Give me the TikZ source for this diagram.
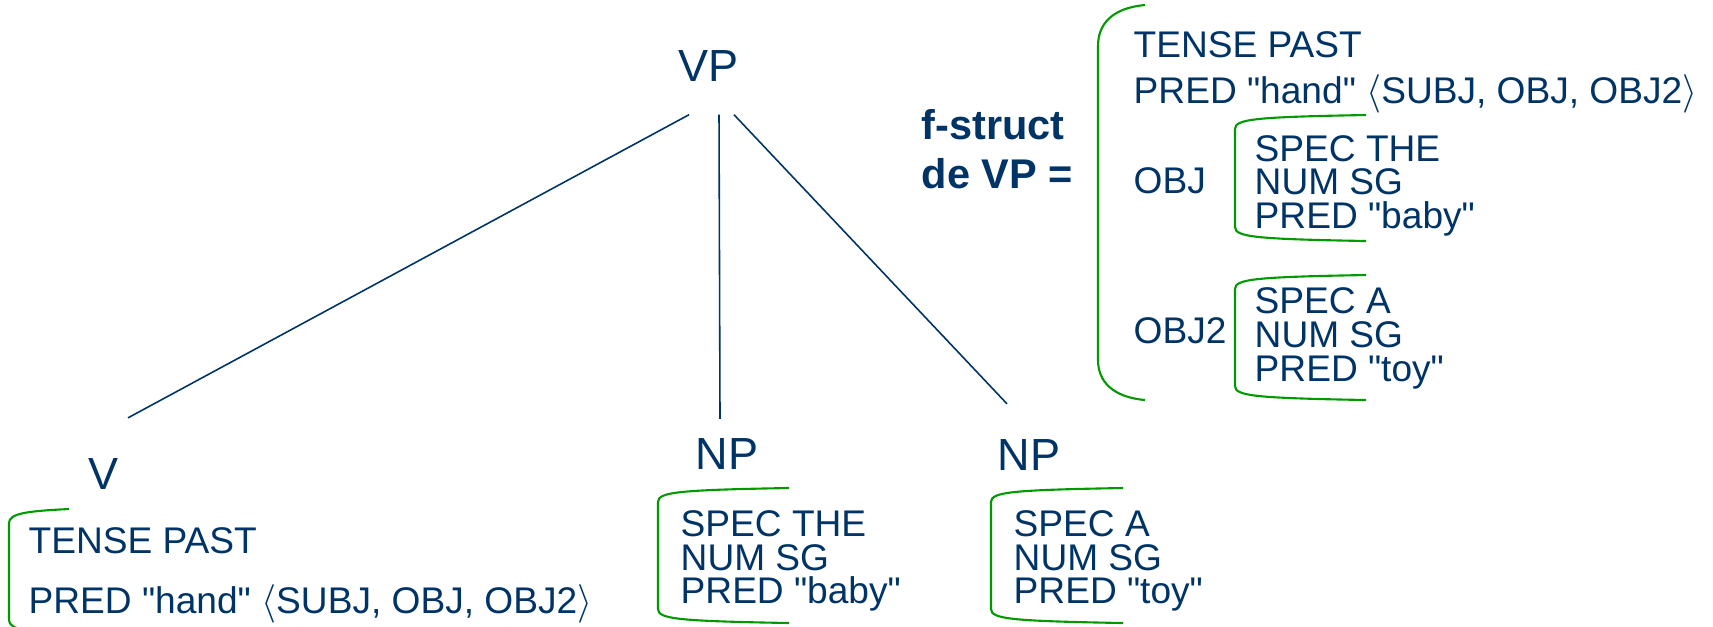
\documentclass[tikz,border=0pt]{standalone}
\usepackage{fontspec}
\setmainfont{Liberation Sans}
% plain family (no TeX ligatures) so that " stays a straight quote
\newfontfamily\featfont{Liberation Sans}
\usetikzlibrary{calc}
\definecolor{navy}{RGB}{0,51,102}
\definecolor{fgreen}{RGB}{0,153,0}

% left square bracket of an attribute-value matrix: x-left, x-right, y-top, y-bottom
\newcommand\avmbracket[4]{%
  \draw[avm] (#2,#3) .. controls (#1+20,#3+2) and (#1,#3+4) .. (#1,#3+14)
    -- (#1,#4-14) .. controls (#1,#4-4) and (#1+20,#4-2) .. (#2,#4);}

\begin{document}
\begin{tikzpicture}[x=0.01cm,y=-0.01cm,
  feat/.style={anchor=base west,inner sep=0pt,text=navy,
    font=\featfont\fontsize{10.55}{12.5}\selectfont},
  cat/.style={anchor=base,inner sep=0pt,text=navy,
    font=\fontsize{12.8}{15}\selectfont},
  title/.style={anchor=base west,inner sep=0pt,text=navy,
    font=\bfseries\fontsize{11.8}{14}\selectfont},
  branch/.style={draw=navy,line width=0.45pt},
  avm/.style={draw=fgreen,line width=0.6pt}]
\useasboundingbox (0,0) rectangle (1713,626);

% tree categories
\node[cat] (VP)  at (708.5,81) {VP};
\node[cat] (V)   at (103.5,489) {V};
\node[cat] (NP1) at (727,469) {NP};
\node[cat] (NP2) at (1029,470) {NP};

% branches
\draw[branch] ($(VP.south)+(-19.5,33)$) -- ($(V.north)+(24.5,-39.5)$);
\draw[branch] ($(VP.south)+(10.5,33)$) -- ($(NP1.north)+(-7,-18.5)$);
\draw[branch] ($(VP.south)+(25.5,33)$) -- ($(NP2.north)+(-22,-34.5)$);

% f-structure of V
\avmbracket{9}{69}{509}{634}
\node[feat] (vtense) at (28,553) {TENSE PAST};
\node[feat] (vpred)  at (28,613) {PRED "hand" $\langle$SUBJ, OBJ, OBJ2$\rangle$};

% f-structure of the first NP
\avmbracket{658}{789}{488}{623}
\node[feat] (aspec) at (680,536) {SPEC THE};
\node[feat] (anum)  at (680,570) {NUM SG};
\node[feat] (apred) at (680,603) {PRED "baby"};

% f-structure of the second NP
\avmbracket{991}{1123}{488}{623}
\node[feat] (bspec) at (1013,536) {SPEC A};
\node[feat] (bnum)  at (1013,570) {NUM SG};
\node[feat] (bpred) at (1013,603) {PRED "toy"};

% f-structure of VP
\node[title] (ft1) at (921,139) {f-struct};
\node[title] (ft2) at (921,188) {de VP =};
\draw[avm] (1145,5) .. controls (1112,8) and (1098,24) .. (1098,46)
  -- (1098,360) .. controls (1098,381) and (1112,397) .. (1145,400);
\node[feat] (ptense) at (1133,57) {TENSE PAST};
\node[feat] (ppred)  at (1133,103) {PRED "hand" $\langle$SUBJ, OBJ, OBJ2$\rangle$};
\node[feat] (pobj)   at (1133,193) {OBJ};
\node[feat] (pobjj)  at (1133,343) {OBJ2};

\avmbracket{1235}{1366}{115}{241}
\node[feat] (ospec) at (1254,161) {SPEC THE};
\node[feat] (onum)  at (1254,194) {NUM SG};
\node[feat] (opred) at (1254,228) {PRED "baby"};

\avmbracket{1235}{1366}{275}{400}
\node[feat] (tspec) at (1254,313) {SPEC A};
\node[feat] (tnum)  at (1254,347) {NUM SG};
\node[feat] (tpred) at (1254,381) {PRED "toy"};
\end{tikzpicture}
\end{document}
